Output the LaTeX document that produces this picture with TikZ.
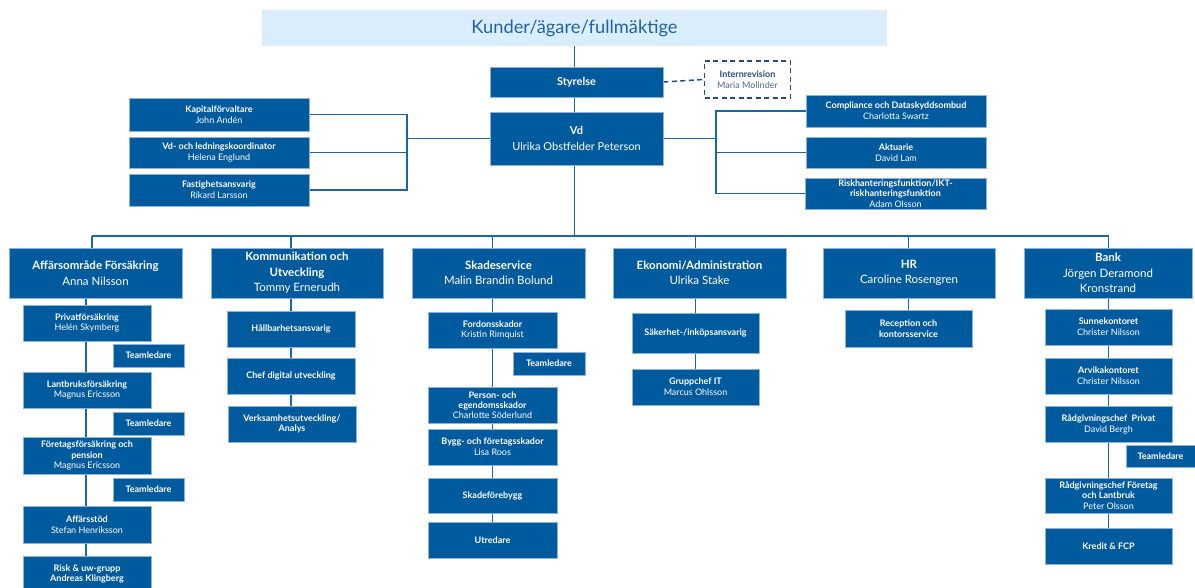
\documentclass[tikz,border=0pt]{standalone}
\usepackage{fontspec}
\setmainfont{Lato}
\usetikzlibrary{backgrounds}
\definecolor{boxblue}{HTML}{005A9E}
\definecolor{boxedge}{HTML}{8DB3D9}
\definecolor{linkblue}{HTML}{1E64A8}
\definecolor{paleblue}{HTML}{DAEDFC}
\definecolor{titleblue}{HTML}{1F63A6}
\definecolor{dashblue}{HTML}{2B4A78}
\definecolor{greyblue}{HTML}{4A6590}
\tikzset{
  orgbox/.style={draw=boxedge, line width=0.6pt, fill=boxblue, text=white, align=center, inner sep=1pt},
  topbox/.style={orgbox, minimum height=50pt, font=\fontsize{11.5}{15.5}\selectfont},
  subbox/.style={orgbox, font=\fontsize{9}{10.8}\selectfont},
  midbox/.style={orgbox, font=\fontsize{11}{16}\selectfont},
  tlbox/.style={subbox, minimum width=71pt, minimum height=23pt},
  link/.style={draw=linkblue, line width=1.6pt},
}
\begin{document}
\begin{tikzpicture}[x=1pt,y=-1pt]
\useasboundingbox (0,0) rectangle (1195,588);
% top
\node[fill=paleblue, text=titleblue, minimum width=625pt, minimum height=36pt, inner sep=0pt, font=\fontsize{18.3}{22}\selectfont] (kunder) at (574.5,28) {Kunder/ägare/fullmäktige};
\node[midbox, minimum width=173pt, minimum height=30pt] (styrelse) at (576.5,82) {\textbf{Styrelse}};
\node[draw=dashblue, line width=1.5pt, dash pattern=on 5pt off 3.5pt, fill=white, align=center, minimum width=86pt, minimum height=37pt, inner sep=1pt, font=\fontsize{9}{11}\selectfont] (intern) at (747.5,79.5) {\textcolor{dashblue}{\textbf{Internrevision}}\\\textcolor{greyblue}{Maria Molinder}};
\node[midbox, minimum width=173pt, minimum height=53pt] (vd) at (576.5,138.5) {\textbf{Vd}\\Ulrika Obstfelder Peterson};
% staff left
\node[subbox, minimum width=180pt, minimum height=33pt] (kap) at (219,114.5) {\textbf{Kapitalförvaltare}\\John Andén};
\node[subbox, minimum width=180pt, minimum height=31pt] (vdk) at (219,152.5) {\textbf{Vd- och ledningskoordinator}\\Helena Englund};
\node[subbox, minimum width=180pt, minimum height=32pt] (fast) at (219,190) {\textbf{Fastighetsansvarig}\\Rikard Larsson};
% staff right
\node[subbox, minimum width=180pt, minimum height=32pt] (comp) at (896,111) {\textbf{Compliance och Dataskyddsombud}\\Charlotta Swartz};
\node[subbox, minimum width=180pt, minimum height=31pt] (akt) at (896,152.5) {\textbf{Aktuarie}\\David Lam};
\node[subbox, minimum width=181pt, minimum height=31pt, font=\fontsize{9}{10.3}\selectfont] (risk) at (895.5,193.5) {\textbf{Riskhanteringsfunktion/IKT-}\\\textbf{riskhanteringsfunktion}\\Adam Olsson};
% top-level units
\node[topbox, minimum width=173pt] (a1) at (95.5,273) {\textbf{Affärsområde Försäkring}\\Anna Nilsson};
\node[topbox, minimum width=172pt] (a2) at (297,273) {\textbf{Kommunikation och}\\\textbf{Utveckling}\\Tommy Ernerudh};
\node[topbox, minimum width=173pt] (a3) at (498.5,273) {\textbf{Skadeservice}\\Malin Brandin Bolund};
\node[topbox, minimum width=173pt] (a4) at (699.5,273) {\textbf{Ekonomi/Administration}\\Ulrika Stake};
\node[topbox, minimum width=172pt] (a5) at (909,273) {\textbf{HR}\\Caroline Rosengren};
\node[topbox, minimum width=168pt] (a6) at (1108,273) {\textbf{Bank}\\Jörgen Deramond\\Kronstrand};
% column 1
\node[subbox, minimum width=128pt, minimum height=36pt] (priv) at (87,323) {\textbf{Privatförsäkring}\\Helén Skymberg};
\node[tlbox] (tl1) at (148.5,355.5) {\textbf{Teamledare}};
\node[subbox, minimum width=128pt, minimum height=36pt] (lant) at (87,390) {\textbf{Lantbruksförsäkring}\\Magnus Ericsson};
\node[tlbox] (tl2) at (148.5,423.5) {\textbf{Teamledare}};
\node[subbox, minimum width=128pt, minimum height=37pt] (foret) at (87,455.5) {\textbf{Företagsförsäkring och}\\\textbf{pension}\\Magnus Ericsson};
\node[tlbox] (tl3) at (148.5,489.5) {\textbf{Teamledare}};
\node[subbox, minimum width=128pt, minimum height=37pt] (affs) at (87,524.5) {\textbf{Affärsstöd}\\Stefan Henriksson};
\node[subbox, minimum width=128pt, minimum height=36pt] (riskuw) at (87,574) {\textbf{Risk \& uw-grupp}\\\textbf{Andreas Klingberg}};
% column 2
\node[subbox, minimum width=128pt, minimum height=36pt] (hall) at (291,329) {\textbf{Hållbarhetsansvarig}};
\node[subbox, minimum width=128pt, minimum height=36pt] (chef) at (291,376) {\textbf{Chef digital utveckling}};
\node[subbox, minimum width=128pt, minimum height=36pt] (verk) at (292,424) {\textbf{Verksamhetsutveckling/}\\\textbf{Analys}};
% column 3
\node[subbox, minimum width=129pt, minimum height=36pt] (ford) at (492.5,330) {\textbf{Fordonsskador}\\Kristin Rimquist};
\node[tlbox, minimum width=72pt] (tl4) at (549,363.5) {\textbf{Teamledare}};
\node[subbox, minimum width=129pt, minimum height=36pt, font=\fontsize{9}{10.3}\selectfont] (pers) at (492.5,405) {\textbf{Person- och}\\\textbf{egendomsskador}\\Charlotte Söderlund};
\node[subbox, minimum width=129pt, minimum height=36pt] (bygg) at (492.5,447) {\textbf{Bygg- och företagsskador}\\Lisa Roos};
\node[subbox, minimum width=129pt, minimum height=35pt] (skfb) at (492.5,495.5) {\textbf{Skadeförebygg}};
\node[subbox, minimum width=129pt, minimum height=36pt] (utr) at (492.5,540) {\textbf{Utredare}};
% column 4
\node[subbox, minimum width=127pt, minimum height=40pt] (sak) at (695.5,333) {\textbf{Säkerhet-/inköpsansvarig}};
\node[subbox, minimum width=127pt, minimum height=36pt] (grp) at (695.5,387) {\textbf{Gruppchef IT}\\Marcus Ohlsson};
% column 5
\node[subbox, minimum width=127pt, minimum height=37pt] (rec) at (908.5,328.5) {\textbf{Reception och}\\\textbf{kontorsservice}};
% column 6
\node[subbox, minimum width=127pt, minimum height=36pt] (sun) at (1108.5,327) {\textbf{Sunnekontoret}\\Christer Nilsson};
\node[subbox, minimum width=127pt, minimum height=36pt] (arv) at (1108.5,376) {\textbf{Arvikakontoret}\\Christer Nilsson};
\node[subbox, minimum width=127pt, minimum height=36pt] (radp) at (1108.5,424) {\textbf{Rådgivningschef\ \ Privat}\\David Bergh};
\node[tlbox, minimum width=69pt, minimum height=22pt] (tl5) at (1160.5,456) {\textbf{Teamledare}};
\node[subbox, minimum width=127pt, minimum height=35pt, font=\fontsize{9}{10.3}\selectfont] (radf) at (1108.5,495.5) {\textbf{Rådgivningschef Företag}\\\textbf{och Lantbruk}\\Peter Olsson};
\node[subbox, minimum width=127pt, minimum height=36pt] (kred) at (1108.5,546) {\textbf{Kredit \& FCP}};
% connectors
\coordinate (bus) at (0,236);
\coordinate (lb) at (407,0);
\coordinate (rb) at (716,0);
\begin{pgfonlayer}{background}
\draw[link] (kunder.south) -- (kunder.south |- bus);
\draw[link] (92,236) -- (sun |- bus);
\draw[link] (92,236) -- (a1.north -| 92,0);
\draw[link] (a2.north -| hall) -- (hall |- bus);
\draw[link] (a3.north -| ford) -- (ford |- bus);
\draw[link] (a4.north -| sak) -- (sak |- bus);
\draw[link] (a5.north -| rec) -- (rec |- bus);
\draw[link] (a6.north -| sun) -- (sun |- bus);
\draw[link, dash pattern=on 5pt off 3.5pt, draw=dashblue, line width=1.5pt] (styrelse.east) -- (intern.west);
\draw[link] (kap.east) -- (kap.east -| lb) -- (fast.east -| lb) -- (fast.east);
\draw[link] (vdk.east) -- (vdk.east -| lb);
\draw[link] (vd.west) -- (vd.west -| lb);
\draw[link] (comp.west) -- (comp.west -| rb) -- (risk.west -| rb) -- (risk.west);
\draw[link] (akt.west) -- (akt.west -| rb);
\draw[link] (vd.east) -- (vd.east -| rb);
\draw[link] (a1.south -| 86,0) -- (riskuw.north -| 86,0);
\draw[link] (a2.south -| hall) -- (verk.north -| hall);
\draw[link] (a3.south -| ford) -- (utr.north -| ford);
\draw[link] (a4.south -| sak) -- (grp.north -| sak);
\draw[link] (a5.south -| rec) -- (rec.north);
\draw[link] (a6.south -| sun) -- (kred.north -| sun);
\end{pgfonlayer}
\end{tikzpicture}
\end{document}
